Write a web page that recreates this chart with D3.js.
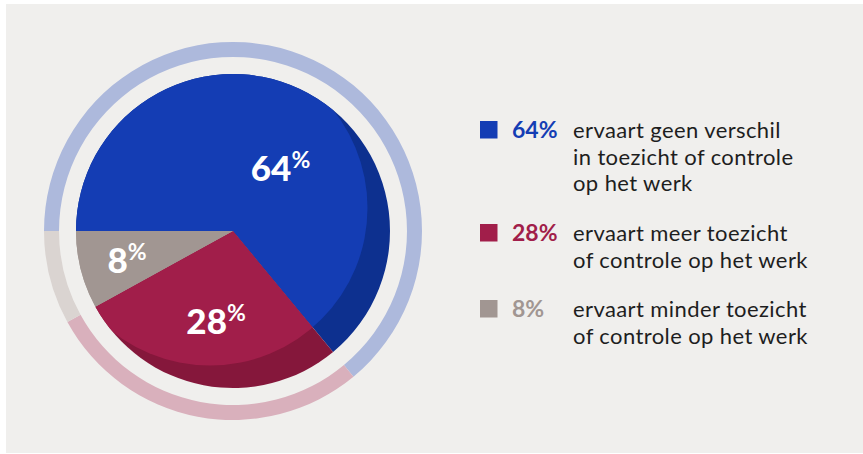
<!DOCTYPE html>
<html>
<head>
<meta charset="utf-8">
<script src="https://cdn.jsdelivr.net/npm/d3@7"></script>
<style>
  html, body { margin: 0; padding: 0; background: #ffffff; }
  svg { display: block; }
</style>
</head>
<body>
<svg id="chart" width="863" height="454"></svg>
<script>
// Survey shares: change in supervision or control of work
const categories = ["geen verschil", "meer", "minder"];
const shares = [64, 28, 8];
const pctLabels = ["64%", "28%", "8%"];
const legendLines = [
  ["ervaart geen verschil", "in toezicht of controle", "op het werk"],
  ["ervaart meer toezicht", "of controle op het werk"],
  ["ervaart minder toezicht", "of controle op het werk"]
];

const baseColors  = ["#143db4", "#a11e4a", "#a19692"];
const shadeColors = ["#0d308f", "#85173b", "#a19692"];
const ringColors  = ["#adb9dc", "#d9b0bc", "#dad4d1"];

const svg = d3.select("#chart");
const W = 863, H = 454;

// panel background
svg.append("rect").attr("x", 6).attr("y", 4).attr("width", W - 6).attr("height", H - 5)
  .attr("fill", "#f0efed");

const cx = 233, cy = 231, R = 157;
const ringInner = 174, ringOuter = 189;

// slices start at 9 o'clock and run clockwise
const pie = d3.pie().sort(null).value(d => d)
  .startAngle(-Math.PI / 2).endAngle(1.5 * Math.PI);
const arcs = pie(shares);

const arc = d3.arc().innerRadius(0).outerRadius(R);
const ring = d3.arc().innerRadius(ringInner).outerRadius(ringOuter);

const g = svg.append("g").attr("transform", `translate(${cx},${cy})`);

// outer ring
g.selectAll("path.ring").data(arcs).join("path")
  .attr("class", "ring")
  .attr("d", ring)
  .attr("fill", (d, i) => ringColors[i]);

// darker base of the pie (visible as crescent at the lower right)
g.selectAll("path.shade").data(arcs).join("path")
  .attr("class", "shade")
  .attr("d", arc)
  .attr("fill", (d, i) => shadeColors[i]);

// lighter face, clipped to a circle shifted to the upper left
const defs = svg.append("defs");
defs.append("clipPath").attr("id", "face")
  .append("circle").attr("cx", -23).attr("cy", -23).attr("r", 157.5);

g.append("g").attr("clip-path", "url(#face)")
  .selectAll("path").data(arcs).join("path")
  .attr("d", arc)
  .attr("fill", (d, i) => baseColors[i]);

// value labels inside slices (polar placement: angle in degrees, radius)
const labelPolar = [[37, 79], [190.6, 92], [254.5, 110]];
const lbl = g.selectAll("text.val").data(arcs).join("text")
  .attr("class", "val")
  .attr("transform", (d, i) => {
    const a = labelPolar[i][0] * Math.PI / 180, r = labelPolar[i][1];
    return `translate(${r * Math.sin(a)},${-r * Math.cos(a)})`;
  })
  .attr("text-anchor", "middle")
  .attr("fill", "#ffffff")
  .attr("font-family", "Lato, 'Open Sans', sans-serif")
  .attr("font-weight", 900);
lbl.append("tspan").attr("font-size", 35).attr("dy", "0.36em")
  .text((d, i) => pctLabels[i].replace("%", ""));
lbl.append("tspan").attr("font-size", 23).attr("font-weight", 700).attr("dy", "-0.55em")
  .text("%");

// legend
const legendTop = [121, 224, 300];
const leg = svg.append("g");
shares.forEach((v, i) => {
  const y0 = legendTop[i];
  leg.append("rect").attr("x", 480).attr("y", y0).attr("width", 17.5).attr("height", 17.5)
    .attr("fill", baseColors[i]);
  leg.append("text").attr("x", 512).attr("y", y0 + 17)
    .attr("font-family", "Lato, 'Open Sans', sans-serif")
    .attr("font-weight", 700).attr("font-size", 23)
    .attr("fill", baseColors[i])
    .text(pctLabels[i]);
  const t = leg.append("text")
    .attr("x", 573).attr("y", y0 + 17)
    .attr("font-family", "Lato, 'Open Sans', sans-serif")
    .attr("font-size", 22)
    .attr("letter-spacing", 0.4)
    .attr("fill", "#1e1e1e");
  legendLines[i].forEach((line, j) => {
    t.append("tspan").attr("x", 573).attr("dy", j === 0 ? 0 : 26.7).text(line);
  });
});
</script>
</body>
</html>
